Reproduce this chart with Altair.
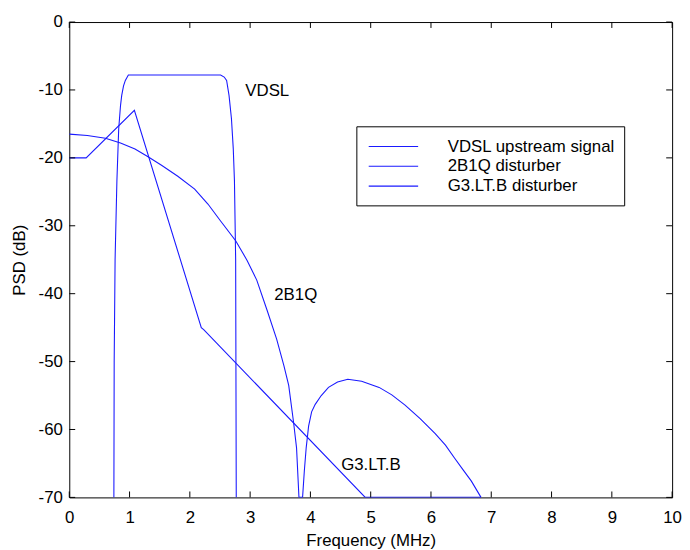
import altair as alt
import pandas as pd

# ---- data ----
vdsl_f = [0.74, 0.745, 0.76, 0.79, 0.82, 0.85, 0.87, 0.90, 0.93, 0.98, 2.51, 2.57, 2.61, 2.65, 2.69, 2.72,
          2.74, 2.76, 2.77]
vdsl_db = [-70, -50, -35, -23.4, -15.7, -12.3, -10.8, -9.4, -8.6, -7.8, -7.8, -8.1, -8.6, -10.8, -14.2,
           -18.6, -23.4, -35, -70]

b2b1q_f = [0, 0.3, 0.6, 0.85, 1.09, 1.3, 1.53, 1.80, 2.08, 2.3, 2.51, 2.76, 2.95, 3.11, 3.28, 3.44, 3.56,
           3.64, 3.72, 3.77, 3.81, 3.87, 3.90, 3.93, 3.97, 4.02, 4.08, 4.18, 4.30, 4.45, 4.62, 4.85, 5.14,
           5.35, 5.57, 5.82, 6.07, 6.24, 6.39, 6.53, 6.67, 6.83]
b2b1q_db = [-16.5, -16.7, -17.1, -17.8, -18.7, -19.8, -21.1, -22.7, -24.6, -26.8, -29.3, -32.2, -35.1,
            -38.0, -42.4, -46.7, -50.6, -53.5, -58.9, -62.7, -70, -70, -66, -62.7, -59.5, -57.4, -56.3,
            -55.0, -53.8, -53.0, -52.6, -52.9, -53.8, -54.9, -56.4, -58.4, -60.6, -62.3, -64.2, -65.9,
            -67.6, -70]

g3_f = [0, 0.28, 1.08, 2.19, 2.23, 4.91, 6.83]
g3_db = [-20, -20, -13, -45, -45.3, -70, -70]

series_names = ["VDSL upstream signal", "2B1Q disturber", "G3.LT.B disturber"]

label_text = ["VDSL", "2B1Q", "G3.LT.B"]
label_f = [2.92, 3.40, 4.51]
label_db = [-10.9, -41.0, -66.0]

x_ticks = [0, 1, 2, 3, 4, 5, 6, 7, 8, 9, 10]
y_ticks = [-70, -60, -50, -40, -30, -20, -10, 0]

# ---- styling ----
FONT = "Liberation Sans"
BLUE = "#1a1aff"
W, H = 610, 481
FS = 17

rows = []
for name, fs, dbs in [(series_names[0], vdsl_f, vdsl_db),
                      (series_names[1], b2b1q_f, b2b1q_db),
                      (series_names[2], g3_f, g3_db)]:
    for i, (f, d) in enumerate(zip(fs, dbs)):
        rows.append({"series": name, "f": f, "db": d, "i": i})
df = pd.DataFrame(rows)

xscale = alt.Scale(domain=[0, 10], nice=False, zero=False)
yscale = alt.Scale(domain=[-70, 0], nice=False, zero=False)

xaxis = alt.Axis(values=x_ticks, format="d", title="Frequency (MHz)", grid=False, ticks=False,
                 domain=False, labelFont=FONT, labelFontSize=FS, labelColor="black", labelPadding=12,
                 labelFlush=False, titleFont=FONT, titleFontSize=FS, titleFontWeight="normal",
                 titleColor="black", titlePadding=8)
yaxis = alt.Axis(values=y_ticks, title="PSD (dB)", grid=False, ticks=False, domain=False,
                 labelExpr="datum.value == 0 ? '0' : '-' + format(-datum.value, 'd')",
                 labelFont=FONT, labelFontSize=FS, labelColor="black", labelPadding=7,
                 labelFlush=False, titleFont=FONT, titleFontSize=FS, titleFontWeight="normal",
                 titleColor="black", titlePadding=10)

lines = alt.Chart(df).mark_line(strokeWidth=1.1, clip=True).encode(
    x=alt.X("f:Q", scale=xscale, axis=xaxis),
    y=alt.Y("db:Q", scale=yscale, axis=yaxis),
    detail="series:N",
    order="i:Q",
    color=alt.value(BLUE),
)

labels = alt.Chart(pd.DataFrame({"t": label_text, "f": label_f, "db": label_db})).mark_text(
    align="left", baseline="alphabetic", font=FONT, fontSize=FS, color="black"
).encode(x=alt.X("f:Q", scale=xscale), y=alt.Y("db:Q", scale=yscale), text="t:N")

TL = 6
xt = pd.DataFrame({"f": x_ticks})
yt = pd.DataFrame({"db": y_ticks})
tick_b = alt.Chart(xt).mark_rule(color="black").encode(
    x=alt.X("f:Q", scale=xscale), y=alt.value(H), y2=alt.value(H - TL))
tick_t = alt.Chart(xt).mark_rule(color="black").encode(
    x=alt.X("f:Q", scale=xscale), y=alt.value(0), y2=alt.value(TL))
tick_l = alt.Chart(yt).mark_rule(color="black").encode(
    y=alt.Y("db:Q", scale=yscale), x=alt.value(0), x2=alt.value(TL))
tick_r = alt.Chart(yt).mark_rule(color="black").encode(
    y=alt.Y("db:Q", scale=yscale), x=alt.value(W), x2=alt.value(W - TL))

# ---- legend box (manual, MATLAB style) ----
one = pd.DataFrame({"a": [0]})
box = alt.Chart(one).mark_rect(fill="white", stroke="black", strokeWidth=1).encode(
    x=alt.value(291), x2=alt.value(562), y=alt.value(106), y2=alt.value(186))
leg_layers = [box]
for k, name in enumerate(series_names):
    ry = 126 + 20 * k
    d = pd.DataFrame({"name": [name]})
    leg_layers.append(alt.Chart(d).mark_rule(color=BLUE, strokeWidth=1.1).encode(
        x=alt.value(303), x2=alt.value(353), y=alt.value(ry)))
    leg_layers.append(alt.Chart(d).mark_text(align="left", baseline="middle", font=FONT,
                                             fontSize=FS, color="black").encode(
        x=alt.value(383), y=alt.value(ry), text="name:N"))

chart = alt.layer(lines, labels, tick_b, tick_t, tick_l, tick_r, *leg_layers).properties(
    width=W, height=H,
    autosize=alt.AutoSizeParams(type="none"),
    padding={"left": 62, "top": 11, "right": 10, "bottom": 49},
    background="white",
).configure_view(stroke="black", strokeWidth=1)

chart.save("out.html", embed_options={"renderer": "svg", "actions": False})
